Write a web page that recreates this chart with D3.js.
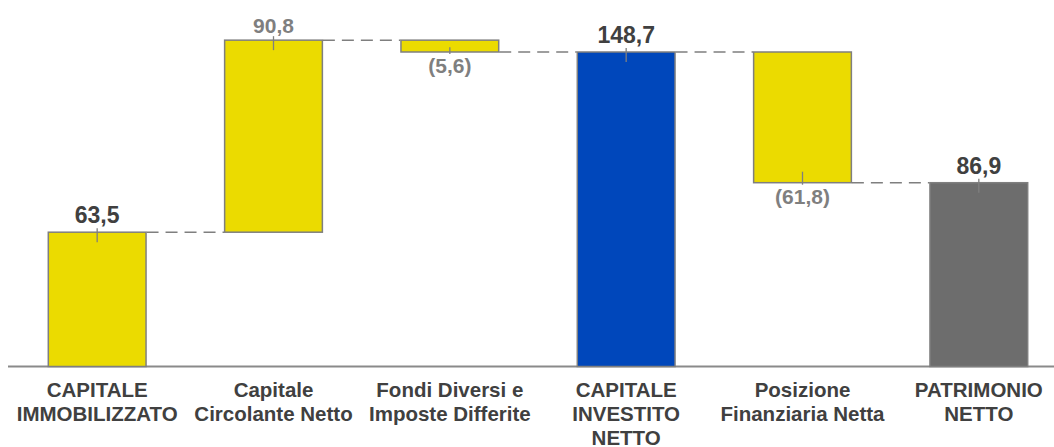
<!DOCTYPE html>
<html><head><meta charset="utf-8">
<script src="https://cdn.jsdelivr.net/npm/d3@7"></script>
<style>body{margin:0;background:#fff}svg{display:block}</style>
</head><body>
<svg id="c" width="1054" height="447"></svg>
<script>
const categories = [["CAPITALE","IMMOBILIZZATO"],["Capitale","Circolante Netto"],["Fondi Diversi e","Imposte Differite"],["CAPITALE","INVESTITO","NETTO"],["Posizione","Finanziaria Netta"],["PATRIMONIO","NETTO"]];
const deltas = [63.5, 90.8, -5.6, 148.7, -61.8, 86.9];
const kinds = ["total","step","step","total","step","total"];
const labels = ["63,5","90,8","(5,6)","148,7","(61,8)","86,9"];
const fills = ["#EBDB00","#EBDB00","#EBDB00","#0047BB","#EBDB00","#6D6D6D"];

const FONT = "Liberation Sans, Arial, sans-serif";
const svg = d3.select("#c");
const x = d3.scaleBand().domain(d3.range(6)).range([9, 1067]).paddingInner(0.44).paddingOuter(0.22);
const y = d3.scaleLinear().domain([0, 160]).range([366.5, 366.5 - 160*2.115]);

let run = 0;
const bars = deltas.map((d,i)=>{
  let lo, hi;
  if (kinds[i]==="total"){ lo=0; hi=d; run=d; }
  else { const s=run; run=s+d; lo=Math.min(s,run); hi=Math.max(s,run); }
  return {i, lo, hi, end: run, neg: d<0};
});

// connectors
for (let i=0;i<bars.length-1;i++){
  svg.append("line")
    .attr("x1", x(i)+x.bandwidth()).attr("x2", x(i+1))
    .attr("y1", y(bars[i].end)).attr("y2", y(bars[i].end))
    .attr("stroke","#7f7f7f").attr("stroke-width",1.5).attr("stroke-dasharray","12,7");
}

// axis line
svg.append("line").attr("x1",8).attr("x2",1054).attr("y1",366.5).attr("y2",366.5)
  .attr("stroke","#8a8a8a").attr("stroke-width",2);

// bars
svg.selectAll("rect.b").data(bars).join("rect")
  .attr("x", d=>x(d.i)+0.5).attr("width", x.bandwidth()-1)
  .attr("y", d=>y(d.hi)).attr("height", d=>y(d.lo)-y(d.hi))
  .attr("fill", d=>fills[d.i]).attr("stroke","#7f7f7f").attr("stroke-width",1.5);

// ticks + labels
bars.forEach(d=>{
  const cx = x(d.i)+x.bandwidth()/2;
  const total = kinds[d.i]==="total";
  if (!d.neg){
    const ty = y(d.hi);
    svg.append("line").attr("x1",cx).attr("x2",cx).attr("y1",ty-4).attr("y2",ty+10)
      .attr("stroke","#7f7f7f").attr("stroke-width",1.3);
    svg.append("text").attr("x",cx).attr("y",ty-(total?9:7)).attr("text-anchor","middle")
      .attr("font-family",FONT).attr("font-weight","bold")
      .attr("font-size", total?23:21).attr("fill", total?"#404040":"#7f7f7f").text(labels[d.i]);
  } else {
    const by = y(d.lo), top = y(d.hi);
    svg.append("line").attr("x1",cx).attr("x2",cx).attr("y1",Math.max(top+7,by-11)).attr("y2",by+2)
      .attr("stroke","#7f7f7f").attr("stroke-width",1.3);
    svg.append("text").attr("x",cx).attr("y",by+21).attr("text-anchor","middle")
      .attr("font-family",FONT).attr("font-weight","bold")
      .attr("font-size",21).attr("fill","#7f7f7f").text(labels[d.i]);
  }
});

// category labels
categories.forEach((lines,i)=>{
  const t = svg.append("text").attr("text-anchor","middle")
    .attr("font-family",FONT).attr("font-weight","bold")
    .attr("font-size",20.5).attr("fill","#404040");
  lines.forEach((l,k)=>{
    t.append("tspan").attr("x", x(i)+x.bandwidth()/2).attr("y", 397 + k*24).text(l);
  });
});
</script>
</body></html>
